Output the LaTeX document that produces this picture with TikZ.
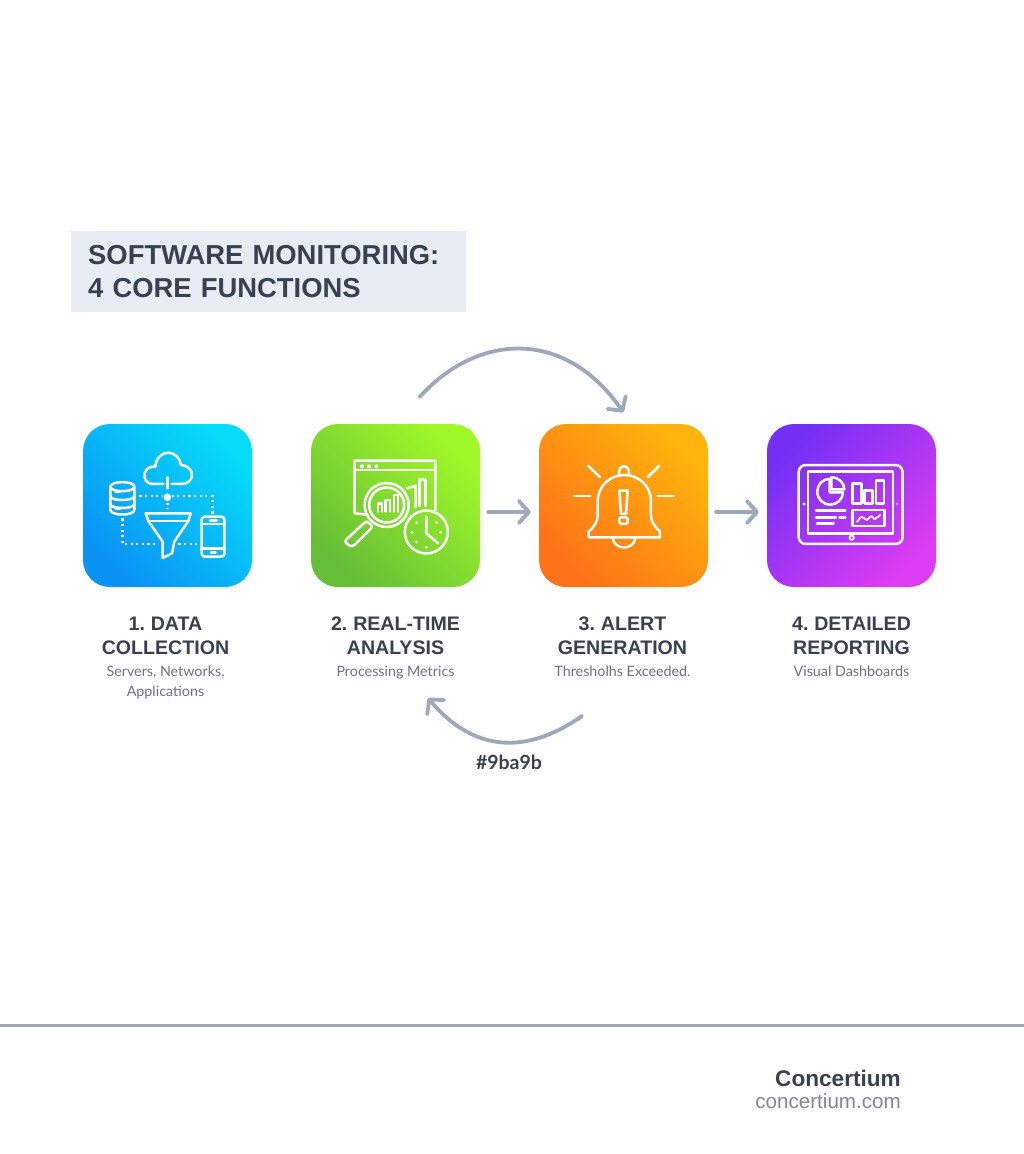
\documentclass[tikz,border=0pt]{standalone}
\usepackage{fontspec}
\setmainfont[WordSpace=0.75]{Liberation Sans}
\newfontfamily\subfont{Lato}
\usetikzlibrary{arrows.meta, positioning}
\definecolor{inkdark}{HTML}{374151}
\definecolor{inksoft}{HTML}{6B7280}
\definecolor{flowgrey}{HTML}{9BA9BB}
\definecolor{titleback}{HTML}{E8EDF3}
\definecolor{blueA}{HTML}{06DCFA}
\definecolor{blueB}{HTML}{0A92F5}
\definecolor{greenA}{HTML}{A0F828}
\definecolor{greenB}{HTML}{66BE38}
\definecolor{orangeA}{HTML}{FFB40C}
\definecolor{orangeB}{HTML}{FF7218}
\definecolor{violetA}{HTML}{7530F6}
\definecolor{violetB}{HTML}{DC3CF2}
\tikzset{
	stepbox/.style={minimum width=169pt, minimum height=163pt, inner sep=0pt, rounded corners=27pt, shading=axis},
	steptext/.style={inner sep=0pt, align=center, text=inkdark, font=\fontsize{19.6}{24}\selectfont\bfseries},
	flow/.style={draw=flowgrey, line width=3.8pt, line cap=round, -{Straight Barb[length=10pt, width=22pt, line width=3.8pt, round]}},
	icon/.style={draw=white, line width=2.5pt, line join=round, line cap=round},
	dots/.style={draw=white, line width=2.5pt, dash pattern=on 2.2pt off 3.4pt},
	zoomed/.style={x=.3333pt, y=-.3333pt}
}
\newcommand{\stepsub}[1]{{\subfont\fontsize{14.3}{19}\selectfont\mdseries\color{inksoft}#1}}
\begin{document}
\begin{tikzpicture}[x=1pt, y=-1pt, node distance=228pt]
	\useasboundingbox (0,0) rectangle (1024,1154);
	\fill[white] (0,0) rectangle (1024,1154);
	\node[anchor=north west, fill=titleback, minimum height=81pt, inner ysep=0pt, inner xsep=17pt, text width=361pt, align=left, text=inkdark, font=\fontsize{27.4}{33}\selectfont\bfseries]	(title)	at (71,231)
		{\mbox{SOFTWARE MONITORING:}\\4 CORE FUNCTIONS};
	\node[stepbox, top color=blueA, bottom color=blueB, shading angle=-45]	(A)	at (167.5,505.5)	{};
	\node[stepbox, top color=greenA, bottom color=greenB, shading angle=-45]	(B)	[right of=A]	{};
	\node[stepbox, top color=orangeA, bottom color=orangeB, shading angle=-45]	(C)	[right of=B]	{};
	\node[stepbox, top color=violetA, bottom color=violetB, shading angle=45]	(D)	[right of=C]	{};
	\node[steptext, below=29.5pt of A, xshift=-2pt]	(labA)
		{1. DATA\\COLLECTION\\[-2pt]\stepsub{Servers, Networks,}\\[-4pt]\stepsub{Applications}};
	\node[steptext, below=29.5pt of B]	(labB)
		{2. REAL-TIME\\ANALYSIS\\[-2pt]\stepsub{Processing Metrics}};
	\node[steptext, below=29.5pt of C, xshift=-1pt]	(labC)
		{3. ALERT\\GENERATION\\[-2pt]\stepsub{Thresholhs Exceeded.}};
	\node[steptext, below=29.5pt of D]	(labD)
		{4. DETAILED\\REPORTING\\[-2pt]\stepsub{Visual Dashboards}};
	\node[text=inkdark, inner sep=0pt, font=\subfont\fontsize{19.5}{22}\selectfont\bfseries]	(hex)	at (509,762)	{\#9ba9b};
	\coordinate	(backS)	at (582,716);
	\coordinate	(backE)	at (428,698);
	\path	([yshift=-6.5pt]B.east)	edge[flow, shorten <=8pt, shorten >=8pt]	([yshift=-6.5pt]C.west)
			([yshift=-6.5pt]C.east)	edge[flow, shorten <=8pt, shorten >=8pt]	([yshift=-6.5pt]D.west)
			(B.north)	edge[flow, out=48, in=125, looseness=1.3, shorten <=36pt, shorten >=14pt]	([xshift=8pt]C.north)
			(backS)	edge[flow, out=215, in=-50, looseness=1.15]	(backE);
	\coordinate	(ruleL)	at (0,1025);
	\coordinate	(ruleR)	at (1024,1025);
	\draw[flowgrey, line width=3pt]	(ruleL) -- (ruleR);
	\node[anchor=east, inner sep=0pt, text=inkdark, font=\fontsize{22.6}{28}\selectfont\bfseries]	(brand)	at (901,1078)	{Concertium};
	\node[anchor=east, inner sep=0pt, text=inksoft!85, font=\fontsize{20.6}{22}\selectfont]	(site)	at (901,1101)	{concertium.com};
	\begin{scope}[shift={(80,420)}, zoomed]
		\draw[icon]	(250,192) -- (218,192) .. controls (200,192) and (190,175) .. (194,160) .. controls (198,145) and (212,138) .. (226,140) .. controls (228,115) and (245,98) .. (265,98) .. controls (285,98) and (300,115) .. (303,135) .. controls (320,135) and (336,148) .. (336,165) .. controls (336,180) and (322,192) .. (305,192) -- (275,192);
		\draw[icon]	(262,172) -- (262,205);
		\fill[white]	(262,232) circle (3.8pt);
		\draw[dots]	(178,228) -- (250,228);
		\draw[dots]	(275,228) -- (397,228) -- (397,285);
		\draw[dots]	(262,248) -- (262,268);
		\draw[dots]	(128,295) -- (128,372) -- (235,372);
		\draw[dots]	(295,372) -- (355,372);
		\draw[icon]	(91,200) .. controls (91,182) and (163,182) .. (163,200) -- (163,270) .. controls (163,288) and (91,288) .. (91,270) -- cycle;
		\draw[icon]	(91,200) .. controls (91,218) and (163,218) .. (163,200);
		\draw[icon]	(91,228) .. controls (91,244) and (163,244) .. (163,228);
		\draw[icon]	(91,252) .. controls (91,268) and (163,268) .. (163,252);
		\foreach \y in {214,240,266} {
			\draw[icon]	(106,\y) -- (122,\y);
		}
		\draw[icon]	(197,280) -- (332,280) -- (325,303) -- (283,365) -- (276,400) -- (248,414) -- (248,365) -- (205,303) -- cycle;
		\draw[icon]	(205,303) -- (325,303);
		\draw[icon, rounded corners=3pt]	(365,290) rectangle (433,410);
		\draw[icon]	(365,312) -- (433,312);
		\draw[icon]	(365,385) -- (433,385);
		\draw[icon]	(390,301) -- (410,301);
		\draw[icon]	(393,398) -- (407,398);
	\end{scope}
	\begin{scope}[shift={(308,420)}, zoomed]
		\draw[icon]	(178,284) -- (140,280) -- (140,122) -- (382,122) -- (382,272);
		\draw[icon]	(140,150) -- (382,150);
		\foreach \x in {162,183,205} {
			\fill[white]	(\x,139) circle (2pt);
		}
		\draw[icon]	(335,258) -- (335,178) -- (352,178) -- (352,258);
		\draw[icon]	(297,205) -- (323,197) -- (323,262);
		\draw[icon]	(236,255) circle (22pt);
		\draw[icon]	(236,255) circle (17.5pt);
		\draw[icon]	(210,275) -- (210,250) -- (222,250) -- (222,275);
		\draw[icon]	(232,275) -- (232,240) -- (246,240) -- (246,275);
		\draw[icon]	(258,275) -- (258,225) -- (270,225) -- (270,275);
		\draw[icon, rounded corners=3pt]	(176,302) -- (195,320) -- (132,382) -- (108,365) -- cycle;
		\draw[icon]	(355,336) circle (21.5pt);
		\draw[icon]	(355,290) -- (355,340) -- (390,370);
		\foreach \x/\y in {312/337,398/337,355/382,325/366,326/308,386/308} {
			\fill[white]	(\x,\y) circle (1.5pt);
		}
	\end{scope}
	\begin{scope}[shift={(536,420)}, zoomed]
		\draw[icon]	(157,137) -- (192,172);
		\draw[icon]	(370,137) -- (335,172);
		\draw[icon]	(115,228) -- (163,228);
		\draw[icon]	(365,228) -- (413,228);
		\draw[icon]	(249,165) .. controls (244,130) and (284,130) .. (279,165);
		\draw[icon]	(158,352) -- (158,335) .. controls (175,320) and (185,305) .. (185,285) -- (185,245) .. controls (185,195) and (225,165) .. (265,165) .. controls (305,165) and (345,195) .. (345,245) -- (345,285) .. controls (345,305) and (355,320) .. (372,335) -- (372,352) -- cycle;
		\draw[icon]	(230,354) .. controls (235,392) and (293,392) .. (298,354);
		\draw[icon]	(250,212) -- (275,212) -- (270,282) -- (255,282) -- cycle;
		\draw[icon, rounded corners=1.5pt]	(250,292) rectangle (275,312);
	\end{scope}
	\begin{scope}[shift={(762,420)}, zoomed]
		\draw[icon, rounded corners=7pt]	(110,135) rectangle (422,372);
		\draw[icon]	(138,155) rectangle (393,340);
		\draw[icon]	(203,177) .. controls (180,177) and (166,195) .. (166,215) .. controls (166,237) and (183,254) .. (205,254) .. controls (225,254) and (243,237) .. (243,217) -- (203,217) -- cycle;
		\draw[icon]	(208,172) .. controls (230,172) and (247,188) .. (247,208) -- (208,208) -- cycle;
		\draw[icon]	(272,190) rectangle (298,250);
		\draw[icon]	(308,212) rectangle (332,250);
		\draw[icon]	(342,182) rectangle (366,250);
		\draw[icon]	(162,272) -- (250,272);
		\draw[icon]	(162,292) -- (222,292);
		\draw[icon]	(232,292) -- (250,292);
		\draw[icon]	(165,310) -- (215,310);
		\draw[icon]	(272,270) rectangle (368,318);
		\draw[icon, line width=1.8pt]	(285,305) -- (298,290) -- (315,300) -- (328,288) -- (338,298) -- (355,285);
		\fill[white]	(126,252) circle (1.7pt);
		\fill[white, opacity=.4]	(405,252) circle (1.7pt);
		\draw[icon, line width=1.8pt]	(269,353) circle (2.2pt);
	\end{scope}
\end{tikzpicture}
\end{document}
